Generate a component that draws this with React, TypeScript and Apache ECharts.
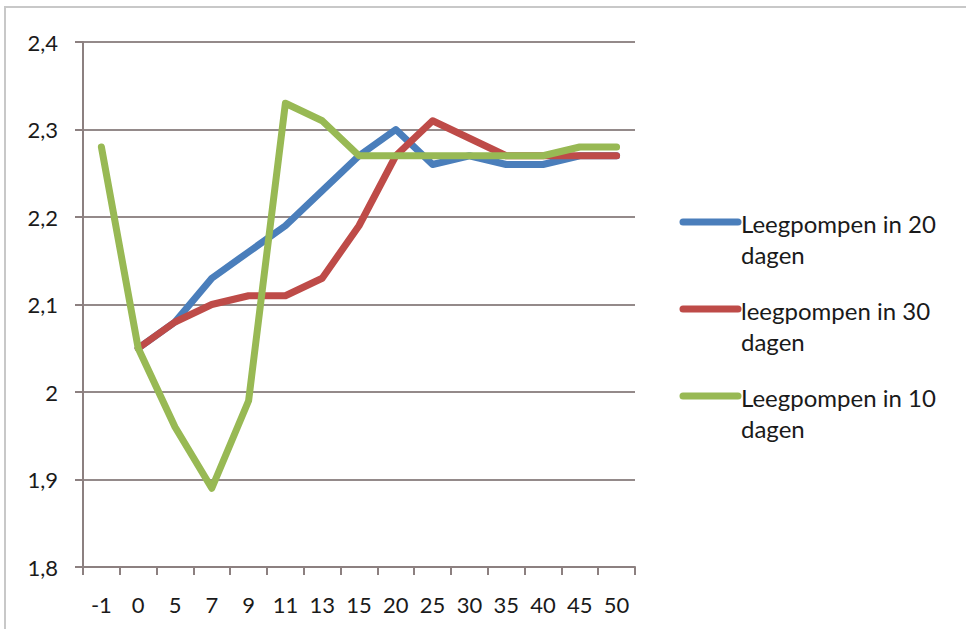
import React, { useEffect, useRef } from "react";
import * as echarts from "echarts";

const categories = ["-1", "0", "5", "7", "9", "11", "13", "15", "20", "25", "30", "35", "40", "45", "50"];
const seriesNames = ["Leegpompen in 20 dagen", "leegpompen in 30 dagen", "Leegpompen in 10 dagen"];
const legendLines = [["Leegpompen in 20", "dagen"], ["leegpompen in 30", "dagen"], ["Leegpompen in 10", "dagen"]];
const blue20 = [null, 2.05, 2.08, 2.13, 2.16, 2.19, 2.23, 2.27, 2.30, 2.26, 2.27, 2.26, 2.26, 2.27, 2.27];
const red30 = [null, 2.05, 2.08, 2.10, 2.11, 2.11, 2.13, 2.19, 2.27, 2.31, 2.29, 2.27, 2.27, 2.27, 2.27];
const green10 = [2.28, 2.05, 1.96, 1.89, 1.99, 2.33, 2.31, 2.27, 2.27, 2.27, 2.27, 2.27, 2.27, 2.28, 2.28];
const colors = ["#4a7ebb", "#be4b48", "#98b954"];
const seriesData = [blue20, red30, green10];

const FONT = "Lato, 'Open Sans', sans-serif";

export default function App() {
  const ref = useRef<HTMLDivElement>(null);
  useEffect(() => {
    const chart = echarts.init(ref.current!, null, { renderer: "svg" });
    const legendGraphics: any[] = [];
    legendLines.forEach((lines, i) => {
      const top = 222 + i * 87;
      legendGraphics.push({
        type: "line",
        shape: { x1: 683, y1: top, x2: 738, y2: top },
        style: { stroke: colors[i], lineWidth: 7, lineCap: "round" },
      });
      legendGraphics.push({
        type: "text",
        x: 741,
        y: top - 14,
        style: {
          text: lines.join("\n"),
          font: `24px ${FONT}`,
          fill: "#1a1a1a",
          lineHeight: 31,
        },
      });
    });
    chart.setOption({
      animation: false,
      backgroundColor: "#ffffff",
      grid: { left: 83, right: 331, top: 42, bottom: 62 },
      xAxis: {
        type: "category",
        data: categories,
        boundaryGap: true,
        axisLine: { lineStyle: { color: "#8c8080", width: 2 } },
        axisTick: { show: true, length: 8, lineStyle: { color: "#8c8080", width: 2 } },
        axisLabel: { color: "#1a1a1a", fontSize: 22, fontFamily: FONT, margin: 26, interval: 0 },
      },
      yAxis: {
        type: "value",
        min: 1.8,
        max: 2.4,
        interval: 0.1,
        axisLine: { show: true, lineStyle: { color: "#8c8080", width: 2 } },
        axisTick: { show: true, length: 8, lineStyle: { color: "#8c8080", width: 2 } },
        splitLine: { show: true, lineStyle: { color: "#948a8a", width: 2 } },
        axisLabel: {
          color: "#1a1a1a",
          fontSize: 22,
          fontFamily: FONT,
          margin: 25,
          formatter: (v: number) => {
            const r = Math.round(v * 10) / 10;
            return String(r).replace(".", ",");
          },
        },
      },
      series: seriesData.map((d, i) => ({
        name: seriesNames[i],
        type: "line",
        data: d,
        showSymbol: false,
        symbol: "none",
        connectNulls: false,
        lineStyle: { color: colors[i], width: 7, cap: "round", join: "round" },
        itemStyle: { color: colors[i] },
        z: 2 + i,
      })),
      graphic: [
        {
          type: "rect",
          shape: { x: 5, y: 7, width: 980, height: 640 },
          style: { fill: "none", stroke: "#c8c8c8", lineWidth: 2 },
        },
        ...legendGraphics,
      ],
    });
    return () => chart.dispose();
  }, []);
  return (
    <div
      ref={ref}
      style={{ position: "fixed", left: 0, top: 0, width: 966, height: 629 }}
    />
  );
}
